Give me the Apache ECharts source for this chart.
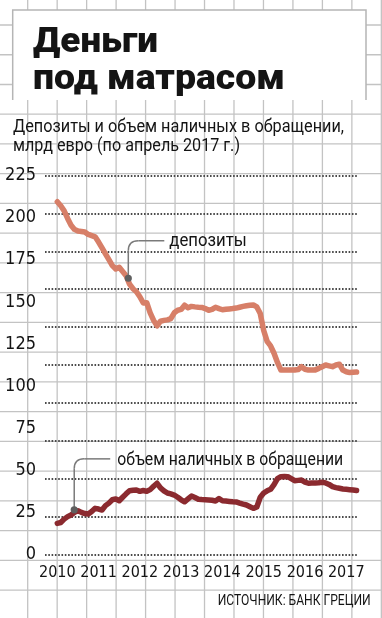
<!DOCTYPE html>
<html>
<head>
<meta charset="utf-8">
<script src="https://cdn.jsdelivr.net/npm/echarts@6/dist/echarts.min.js"></script>
<style>
  html, body { margin: 0; padding: 0; background: #ffffff; }
  #chart { width: 382px; height: 618px; }
</style>
</head>
<body>
<div id="chart"></div>
<script>
// ---------------- data ----------------
const titleLines = ['Деньги', 'под матрасом'];
const subtitleLines = ['Депозиты и объем наличных в обращении,', 'млрд евро (по апрель 2017 г.)'];
const sourceText = 'ИСТОЧНИК: БАНК ГРЕЦИИ';
const seriesNames = ['депозиты', 'объем наличных в обращении'];

const startYear = 2010;             // first monthly observation: January 2010
const yearLabels = [2010, 2011, 2012, 2013, 2014, 2015, 2016, 2017];
const valueTicks = [0, 25, 50, 75, 100, 125, 150, 175, 200, 225];

// monthly deposits, bn EUR (Jan 2010 – Apr 2017)
const deposits = [
  209.4, 207, 204, 199.5, 195.5, 193, 192, 191.8, 191.5, 190, 189.3, 188.6,
  185.5, 182, 178.5, 175, 171.5, 169.5, 170.5, 168, 165.5, 160.5, 157.8, 156,
  153, 149.3, 149.5, 143.5, 139, 135.7, 138.5, 139, 139.3, 140, 143.5, 145,
  145.5, 148, 146.5, 147.3, 147, 146.8, 146.7, 146, 145, 145.5, 146.8, 146,
  145.3, 145.6, 145.8, 146, 146.3, 146.8, 147.3, 147.7, 148, 148.1, 147, 143,
  133, 126.5, 123.8, 119.5, 114, 109.5, 109.5, 109.6, 109.5, 109.5, 109.8, 111.5,
  110, 109.5, 109.5, 109.6, 110.5, 111.5, 112.5, 112, 111.5, 112.5, 113, 109.5,
  108.5, 108, 108.2, 108.3
];
// monthly currency in circulation, bn EUR
const cash = [
  18.5, 19, 21, 22.5, 23.5, 25, 26, 25, 24.3, 24, 25.5, 27.4,
  27, 26.4, 29, 30.5, 32.5, 33, 31.9, 34, 36, 37.9, 38.2, 38.3,
  37.5, 38, 37.5, 38.5, 40.5, 42.3, 39.5, 37.8, 36.5, 36, 35.3, 34,
  32.5, 31.3, 33, 34.7, 33.8, 32.8, 32.6, 32.5, 32.4, 32.2, 31.8, 33.2,
  31.9, 31.7, 31.5, 31.3, 31.2, 30.5, 29.9, 29.4, 28.4, 27.4, 28.2, 34,
  36.5, 37.8, 38.7, 41.5, 45, 46.2, 46.3, 46.2, 45, 43.8, 44, 44.2,
  43, 42.3, 42.4, 42.5, 42.6, 42.9, 42.5, 41.6, 40.3, 39.7, 39.3, 38.9,
  38.7, 38.5, 38.3, 38
];
// annotation anchors [decimal year, value]
const depositsNote = [2011.72, 164];
const cashNote = [2010.41, 26.5];

// ---------------- chart ----------------
const chart = echarts.init(document.getElementById('chart'), null, { renderer: 'canvas' });

const toXY = arr => arr.map((v, i) => [startYear + i / 12, v]);

const narrow = "'Liberation Sans Narrow', 'DejaVu Sans Condensed', Roboto, sans-serif";
const DEP_COLOR = '#d77f68';
const CASH_COLOR = '#8b2a2f';

const meas = document.createElement('canvas').getContext('2d');
function fitScale(text, font, w) { meas.font = font; return w / meas.measureText(text).width; }

const GRID_LEFT = 45, GRID_RIGHT_PX = 358.3, GRID_TOP = 175.5, GRID_BOTTOM_PX = 554.5;
const pxPerYear = 41.28;
const xMin = startYear - (57.3 - GRID_LEFT) / pxPerYear;
const xMax = xMin + (GRID_RIGHT_PX - GRID_LEFT) / pxPerYear;

// background graph paper
const paper = [];
for (let k = 0; k < 14; k++) {
  const x = 27.7 + 29.47 * k;
  paper.push({ type: 'line', z: -100, silent: true, shape: { x1: x, y1: 0, x2: x, y2: 618 }, style: { stroke: '#c3c3c3', lineWidth: 1.3 } });
}
for (let k = 0; k < 22; k++) {
  const y = 25 + 29.74 * k;
  paper.push({ type: 'line', z: -100, silent: true, shape: { x1: 0, y1: y, x2: 382, y2: y }, style: { stroke: '#c3c3c3', lineWidth: 1.3 } });
}

function textEl(text, x, y, size, weight, family, targetW, align, z) {
  const font = weight + ' ' + size + 'px ' + family;
  const s = targetW ? fitScale(text, font, targetW) : 1;
  return {
    type: 'text', x: x, y: y, scaleX: s, z: z || 20, silent: true,
    style: { text: text, fontSize: size, fontWeight: weight, fontFamily: family, fill: '#141414',
             textAlign: align || 'left', textVerticalAlign: 'middle' }
  };
}

const option = {
  animation: false,
  backgroundColor: 'transparent',
  grid: { left: GRID_LEFT, right: 382 - GRID_RIGHT_PX, top: GRID_TOP, bottom: 618 - GRID_BOTTOM_PX, containLabel: false },
  xAxis: {
    type: 'value', min: xMin, max: xMax,
    axisLine: { show: false }, axisTick: { show: false }, splitLine: { show: false },
    axisLabel: {
      customValues: yearLabels, formatter: v => String(Math.round(v)),
      fontFamily: narrow, fontSize: 16, color: '#141414', margin: 10
    }
  },
  yAxis: [
    { // dotted reference lines
      type: 'value', min: 0, max: 250, interval: 25,
      axisLine: { show: false }, axisTick: { show: false }, axisLabel: { show: false },
      splitLine: { show: true, lineStyle: { color: '#4a4a4a', width: 1.8, type: [1.6, 1.7] } }
    },
    { // labelled value scale
      type: 'value', min: valueTicks[0], max: valueTicks[valueTicks.length - 1],
      interval: valueTicks[1] - valueTicks[0], position: 'left',
      axisLine: { show: false }, axisTick: { show: false }, splitLine: { show: false },
      axisLabel: { fontFamily: narrow, fontSize: 18, color: '#141414', margin: 9 }
    }
  ],
  series: [
    {
      name: seriesNames[0], type: 'line', yAxisIndex: 1, data: toXY(deposits),
      showSymbol: false, symbol: 'none', z: 3,
      lineStyle: { color: DEP_COLOR, width: 5.5, cap: 'round', join: 'round' }
    },
    {
      name: seriesNames[1], type: 'line', yAxisIndex: 1, data: toXY(cash),
      showSymbol: false, symbol: 'none', z: 3,
      lineStyle: { color: CASH_COLOR, width: 5.5, cap: 'round', join: 'round' }
    }
  ]
};
chart.setOption(option);

// annotations and headings
const dp = chart.convertToPixel({ xAxisIndex: 0, yAxisIndex: 1 }, depositsNote);
const cp = chart.convertToPixel({ xAxisIndex: 0, yAxisIndex: 1 }, cashNote);

function leader(p, dy, len) {
  const x = p[0], y = p[1], hy = y - dy, r = 10;
  const st = { stroke: '#7a7a7a', lineWidth: 1.5, fill: null };
  return [
    { type: 'line', z: 15, silent: true, shape: { x1: x, y1: y, x2: x, y2: hy + r }, style: st },
    { type: 'bezierCurve', z: 15, silent: true, shape: { x1: x, y1: hy + r, cpx1: x, cpy1: hy, x2: x + r, y2: hy }, style: st },
    { type: 'line', z: 15, silent: true, shape: { x1: x + r, y1: hy, x2: x + len, y2: hy }, style: st }
  ];
}
function dot(p) {
  return { type: 'circle', z: 16, silent: true, shape: { cx: p[0], cy: p[1], r: 3.6 }, style: { fill: '#5f5f5f' } };
}

const extra = [
  // title box
  { type: 'rect', z: 5, silent: true, shape: { x: 12.7, y: 10, width: 353.3, height: 90 }, style: { fill: '#ffffff' } },
  { type: 'polyline', z: 6, silent: true, shape: { points: [[12.7, 100], [12.7, 10], [366, 10], [366, 100]] }, style: { stroke: '#b5b5b5', lineWidth: 1.5, fill: null } },
  textEl(titleLines[0], 33, 43, 35, 900, 'Roboto, sans-serif', 125),
  textEl(titleLines[1], 33, 80, 35, 900, 'Roboto, sans-serif', 252),
  textEl(subtitleLines[0], 13, 127, 18, 400, 'Roboto, sans-serif', 331),
  textEl(subtitleLines[1], 13, 146, 18, 400, 'Roboto, sans-serif', 227),
  textEl(sourceText, 370.7, 601.5, 14, 400, 'Roboto, sans-serif', 153, 'right'),
  ...leader(dp, 37.5, 36),
  dot(dp),
  textEl(seriesNames[0], dp[0] + 41, dp[1] - 37, 19, 400, 'Roboto, sans-serif', 77.5),
  ...leader(cp, 51, 36),
  dot(cp),
  textEl(seriesNames[1], cp[0] + 43, cp[1] - 50, 19, 400, 'Roboto, sans-serif', 226)
];
chart.setOption({ graphic: paper.concat(extra) });
</script>
</body>
</html>
